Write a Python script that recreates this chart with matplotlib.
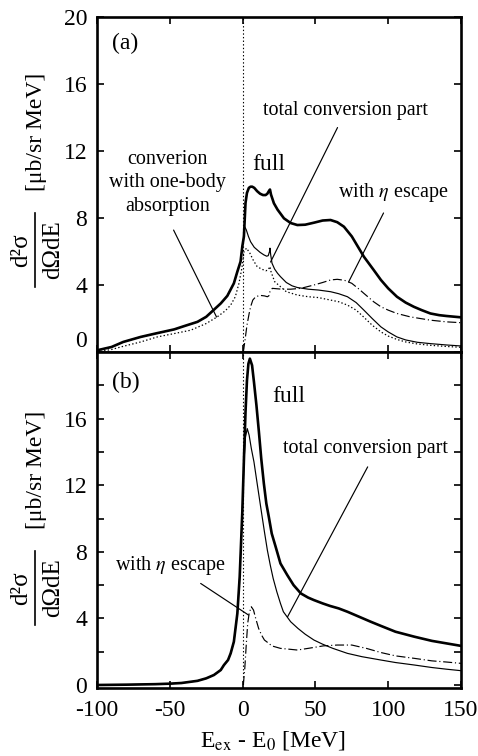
import matplotlib
matplotlib.use("Agg")
import matplotlib.pyplot as plt
from matplotlib.lines import Line2D

plt.rcParams['font.family'] = ['Liberation Serif', 'DejaVu Serif']
plt.rcParams['mathtext.fontset'] = 'stix'
plt.rcParams['lines.scale_dashes'] = False
plt.rcParams['axes.unicode_minus'] = False

# ---------------- panel (a) ----------------
a_full_x = [-100, -90, -82, -70, -60, -47, -40, -31, -25, -20, -15, -10.5, -6, -3.6, -1.4, -0.2,
            0.9, 2, 3, 4.3, 5.5, 6.6, 8, 10, 12, 14, 15.8, 17, 18, 18.8, 19.5, 21.5, 24, 28.4,
            33, 37.6, 43, 49, 55, 60.4, 65, 69.6, 75, 83.3, 90, 95, 100, 106, 112, 117.6, 123,
            129, 135, 140, 150]
a_full_y = [0.1, 0.3, 0.6, 0.9, 1.1, 1.35, 1.55, 1.8, 2.1, 2.5, 2.9, 3.35, 4.1, 4.8, 5.4, 6.3,
            6.9, 8.9, 9.5, 9.8, 9.87, 9.87, 9.8, 9.6, 9.45, 9.37, 9.37, 9.45, 9.6, 9.7, 9.4, 8.88,
            8.5, 7.98, 7.7, 7.58, 7.6, 7.72, 7.85, 7.88, 7.75, 7.48, 6.9, 5.69, 4.9, 4.3, 3.8,
            3.3, 2.95, 2.7, 2.5, 2.3, 2.2, 2.15, 2.07]

a_conv_x = [-100, -90, -82, -70, -60, -47, -40, -31, -25, -20, -15, -10.5, -6, -3.6, -1.4, -0.2,
            0.9, 1.4, 2.5, 4, 5.5, 8, 10, 12, 14.6, 16.5, 17.6, 18.5, 18.8, 19.3, 20.2, 22, 24,
            26, 30, 34, 37.6, 45, 52, 60.4, 66, 72, 78, 83.3, 89, 95, 100, 106, 112, 120, 129,
            140, 150]
a_conv_y = [0.1, 0.3, 0.6, 0.9, 1.1, 1.35, 1.55, 1.8, 2.1, 2.5, 2.9, 3.35, 4.1, 4.8, 5.4, 6.3,
            6.9, 7.48, 7.3, 6.9, 6.58, 6.25, 6.1, 5.95, 5.8, 5.72, 5.75, 6.0, 6.2, 5.8, 5.3,
            4.95, 4.7, 4.5, 4.15, 3.95, 3.85, 3.75, 3.7, 3.6, 3.48, 3.3, 2.95, 2.5, 2.0, 1.5,
            1.2, 0.9, 0.72, 0.58, 0.5, 0.42, 0.36]

a_one_x = [-100, -90, -81.5, -70, -58.6, -47, -35.7, -25, -17.4, -12, -8.2, -5, -2.5, -0.5, 1,
           2.7, 5, 7.5, 10, 13, 16, 17.5, 18.8, 19.5, 22, 26, 30, 37.6, 45, 52, 60.4, 66, 72,
           78, 83, 89, 95, 100, 106, 112, 120, 129, 140, 150]
a_one_y = [0.0, 0.15, 0.35, 0.6, 0.9, 1.1, 1.3, 1.7, 2.1, 2.45, 2.8, 3.3, 4.1, 5.0, 6.0,
           6.2, 5.9, 5.45, 5.1, 4.95, 4.85, 4.9, 5.1, 4.8, 4.2, 3.9, 3.6, 3.4, 3.3, 3.25, 3.1,
           3.0, 2.8, 2.5, 2.1, 1.6, 1.2, 0.95, 0.75, 0.6, 0.48, 0.4, 0.33, 0.28]

a_eta_x = [0.5, 1.5, 3, 4.5, 5.5, 7, 9, 12, 15, 17, 18, 18.8, 20.4, 23, 27, 33, 40, 49, 55,
           60.4, 65, 70, 75, 80, 83.3, 90, 95, 100, 106, 115, 122, 129, 140, 150]
a_eta_y = [0.0, 0.6, 1.6, 2.3, 2.7, 3.1, 3.3, 3.38, 3.35, 3.3, 3.35, 3.6, 3.8, 3.78, 3.75,
           3.75, 3.8, 4.0, 4.15, 4.3, 4.34, 4.28, 4.1, 3.75, 3.5, 3.0, 2.7, 2.5, 2.3, 2.1,
           2.0, 1.9, 1.8, 1.75]

# ---------------- panel (b) ----------------
b_full_x = [-100, -80, -60, -50, -42, -31, -25, -19.7, -15, -12.8, -10, -8.2, -6, -3.6, -2,
            -0.2, 1, 2, 3, 4, 5, 6.5, 7.8, 9.5, 11.2, 12.8, 14.6, 16.3, 18, 20, 22.7, 26, 30.7,
            35, 40, 45, 49, 55, 60, 66, 72, 80, 88, 95, 105, 118, 130, 140, 150]
b_full_y = [0.0, 0.02, 0.05, 0.08, 0.12, 0.25, 0.4, 0.6, 0.9, 1.2, 1.5, 1.9, 2.6, 4.3, 6.5,
            10.4, 13.8, 16.4, 18.3, 19.3, 19.6, 19.2, 18.2, 16.8, 15.2, 13.6, 12.1, 10.9, 10.1,
            9.1, 8.3, 7.3, 6.6, 6.0, 5.5, 5.25, 5.1, 4.9, 4.75, 4.6, 4.4, 4.1, 3.8, 3.55, 3.2,
            2.9, 2.65, 2.5, 2.35]

b_conv_x = [-100, -80, -60, -50, -42, -31, -25, -19.7, -15, -12.8, -10, -8.2, -6, -3.6, -2,
            -0.2, 1, 2, 3.2, 4.5, 6, 7.8, 10, 12.4, 15, 17, 19, 21, 23.5, 26, 28, 33, 38, 43,
            49, 55, 62, 72, 82, 95, 105, 118, 130, 140, 150]
b_conv_y = [0.0, 0.02, 0.05, 0.08, 0.12, 0.25, 0.4, 0.6, 0.9, 1.2, 1.5, 1.9, 2.6, 4.3, 6.5,
            10.4, 13.5, 14.9, 15.4, 15.0, 14.2, 13.4, 12.1, 10.7, 9.2, 8.1, 7.2, 6.4, 5.6, 4.9,
            4.4, 3.8, 3.4, 3.05, 2.7, 2.45, 2.2, 1.9, 1.7, 1.5, 1.35, 1.2, 1.05, 0.95, 0.86]

b_eta_x = [0.5, 1.5, 2.5, 3.5, 4.5, 6, 7.5, 9, 11, 13, 15, 18, 20, 26, 32, 37.6, 45, 55.5, 65,
           75, 85, 95, 105, 118, 130, 140, 150]
b_eta_y = [0.0, 1.0, 2.4, 3.7, 4.3, 4.7, 4.5, 4.0, 3.4, 3.0, 2.7, 2.5, 2.35, 2.2, 2.15, 2.1,
           2.2, 2.35, 2.4, 2.4, 2.2, 1.95, 1.75, 1.6, 1.45, 1.38, 1.3]

x_ticks = [-100, -50, 0, 50, 100, 150]
a_y_ticks = [0, 4, 8, 12, 16, 20]
b_y_ticks = [0, 4, 8, 12, 16]
b_y_minor = [2, 6, 10, 14, 18]

W, H = 478, 756
fig = plt.figure(figsize=(W / 100, H / 100), dpi=100)
L, R = 97, 461
ax1 = fig.add_axes([L / W, 1 - 352 / H, (R - L) / W, (352 - 17) / H])
ax2 = fig.add_axes([L / W, 1 - 688 / H, (R - L) / W, (688 - 352) / H])

thick, thin = 1.9, 0.85
dot = (0, (1, 1.6))
dashdot = (0, (6.5, 2, 0.8, 2))

for ax in (ax1, ax2):
    ax.set_xlim(-100, 150)
    ax.set_xticks(x_ticks)
    ax.tick_params(which='both', direction='in', top=True, right=True, length=5, width=1.2,
                   labelsize=17, pad=7)
    ax.tick_params(axis='x', pad=9)
    for s in ax.spines.values():
        s.set_linewidth(1.9)
    ax.axvline(0, color='black', lw=0.8, ls=dot, zorder=1)

ax1.set_ylim(0, 20)
ax1.set_yticks(a_y_ticks)
ax2.set_ylim(-0.18, 20)
ax2.set_yticks(b_y_ticks)
ax2.set_yticks(b_y_minor, minor=True)
ax2.tick_params(which='minor', length=5, width=1.2)
ax1.tick_params(axis='x', labelbottom=False)
# lift the "0" label of the upper panel slightly, as in the reference
for lab in ax1.get_yticklabels():
    if lab.get_text() == '0':
        lab.set_va('bottom')
        lab.set_y(0)

ax1.plot(a_full_x, a_full_y, color='black', lw=thick, zorder=4)
ax1.plot(a_conv_x, a_conv_y, color='black', lw=thin, zorder=3)
ax1.plot(a_one_x, a_one_y, color='black', lw=0.9, ls=dot, zorder=3)
ax1.plot(a_eta_x, a_eta_y, color='black', lw=thin, ls=dashdot, zorder=3)

ax2.plot(b_full_x, b_full_y, color='black', lw=thick, zorder=4)
ax2.plot(b_conv_x, b_conv_y, color='black', lw=thin, zorder=3)
ax2.plot(b_eta_x, b_eta_y, color='black', lw=thin, ls=dashdot, zorder=3)

fs = 14.5
lk = dict(arrowstyle='-', lw=0.85, color='black', shrinkA=0, shrinkB=0)

ax1.text(-80.4, 18.4, '(a)', fontsize=17, ha='center', va='center')
ax1.text(-51.5, 10.1, 'converion\nwith one-body\nabsorption', fontsize=fs, ha='center',
         va='center', linespacing=1.3)
ax1.annotate('', xy=(-17.9, 2.09), xytext=(-47.4, 7.28), arrowprops=lk)
ax1.text(17.9, 11.2, 'full', fontsize=17, ha='center', va='center')
ax1.text(70.7, 14.4, 'total conversion part', fontsize=fs, ha='center', va='center')
ax1.annotate('', xy=(19.2, 5.37), xytext=(65.2, 13.4), arrowprops=lk)
ax1.text(103.7, 9.5, r'with $\eta$ escape', fontsize=fs, ha='center', va='center')
ax1.annotate('', xy=(72.8, 4.18), xytext=(96.8, 8.3), arrowprops=lk)

ax2.text(-80.4, 18.2, '(b)', fontsize=17, ha='center', va='center')
ax2.text(31.6, 17.35, 'full', fontsize=17, ha='center', va='center')
ax2.text(84.5, 14.2, 'total conversion part', fontsize=fs, ha='center', va='center')
ax2.annotate('', xy=(30.9, 4.1), xytext=(85.9, 13.1), arrowprops=lk)
ax2.text(-49.5, 7.2, r'with $\eta$ escape', fontsize=fs, ha='center', va='center')
ax2.annotate('', xy=(4.1, 4.2), xytext=(-28.8, 6.1), arrowprops=lk)

# y-axis labels (fraction + units), drawn per panel
def ylab(cy_frac, cy_unit):
    fig.text(36.5 / W, 1 - cy_unit / H, '[μb/sr MeV]', rotation=90, fontsize=17,
             ha='center', va='center')
    fig.text(21 / W, 1 - cy_frac / H, 'd²σ', rotation=90, fontsize=18,
             ha='center', va='center')
    fig.text(53 / W, 1 - cy_frac / H, 'dΩdE', rotation=90, fontsize=18,
             ha='center', va='center')
    fig.add_artist(Line2D([35 / W, 35 / W], [1 - (cy_frac - 37) / H, 1 - (cy_frac + 37) / H],
                          transform=fig.transFigure, color='black', lw=1.2))

ylab(250, 132)
ylab(588, 470)

fig.text(273 / W, 1 - 741 / H, r'E$_{\rm ex}$ - E$_{\rm 0}$ [MeV]', fontsize=17,
         ha='center', va='center')

fig.savefig('out.png', dpi=100)
